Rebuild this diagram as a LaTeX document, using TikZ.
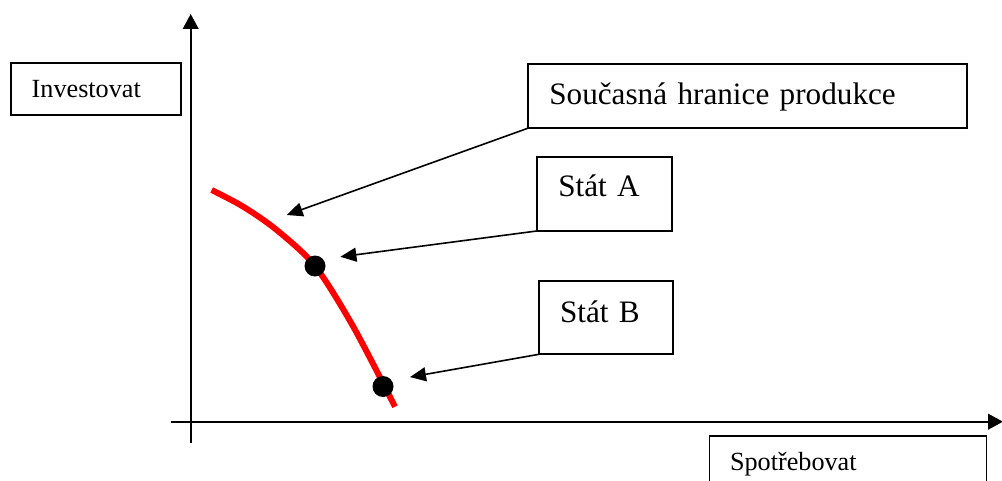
\documentclass[tikz,border=0pt]{standalone}
\usepackage{fontspec}
\setmainfont{Liberation Serif}
\usetikzlibrary{arrows.meta}
\begin{document}
\begin{tikzpicture}[x=0.5pt, y=-0.5pt,
	box/.style={draw, line width=0.9pt, anchor=base west, inner ysep=0pt, outer sep=0pt, align=left},
	small/.style={font=\fontsize{13.1}{15}\selectfont},
	big/.style={font=\fontsize{15.6}{18}\selectfont},
	pointer/.style={line width=0.8pt, -{Triangle[length=8pt, width=7pt]}},
	dot/.style={circle, fill=black, inner sep=0pt, minimum size=10.5pt}]
	\useasboundingbox (0,0) rectangle (1002,481);
	\clip (0,0) rectangle (1002,481);
	\coordinate (ybot) at (190.7, 443);
	\coordinate (ytop) at (190.7, 14);
	\coordinate (xleft) at (170.6, 421.7);
	\coordinate (xright) at (1003, 421.7);
	\draw[line width=1.2pt, -{Triangle[length=7.5pt, width=7.8pt]}] (ybot) to (ytop);
	\draw[line width=1.2pt, -{Triangle[length=7.5pt, width=7.8pt]}] (xleft) to (xright);
	\node[box, small, inner xsep=10.5pt, text width=64.3pt, text height=17.5pt, text depth=8.8pt] (inv) at (10.7, 97.7) {Investovat};
	\node[box, small, inner xsep=10.25pt, text width=118pt, text height=17.15pt, text depth=20pt] (spo) at (709.5, 470) {Spotřebovat};
	\node[box, big, inner xsep=10.8pt, text width=197.9pt, text height=20.5pt, text depth=11.65pt] (hra) at (527.7, 105) {Současná hranice produkce};
	\node[box, big, inner xsep=10.8pt, text width=45.9pt, text height=20pt, text depth=17.15pt] (sa) at (536.7, 196.7) {Stát A};
	\node[box, big, inner xsep=10.5pt, text width=46.15pt, text height=20.8pt, text depth=16pt] (sb) at (539, 322.3) {Stát B};
	\draw[red, line width=3pt] plot[smooth] coordinates {(211.7,190) (243.3,206.7) (276.7,230) (315,266) (353.3,326.7) (395,406.7)};
	\node[dot] (a) at (315, 266) {};
	\node[dot] (b) at (383, 386.5) {};
	\coordinate (tip) at (286.7, 215);
	\draw[pointer] (hra.south west) to (tip);
	\draw[pointer] (sa.south west) to ([xshift=12.7pt, yshift=4.6pt]a.center);
	\draw[pointer] (sb.south west) to ([xshift=13.5pt, yshift=4.7pt]b.center);
\end{tikzpicture}
\end{document}
